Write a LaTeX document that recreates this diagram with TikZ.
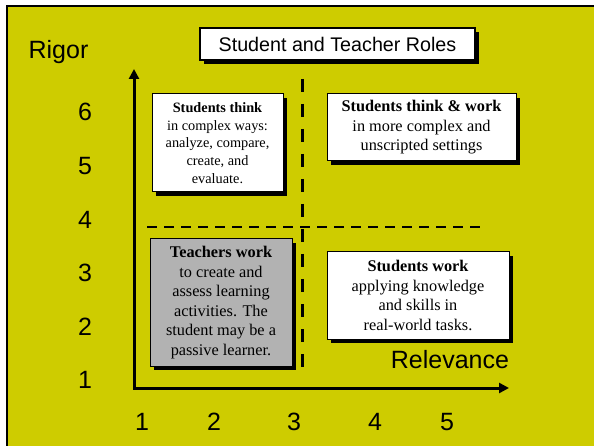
\documentclass[tikz,border=0pt]{standalone}
\usepackage{fontspec}
\setmainfont{Liberation Serif}
\setsansfont{Liberation Sans}
\usetikzlibrary{arrows.meta,shadows}
\definecolor{slidebg}{RGB}{206,204,0}
\definecolor{boxgrey}{RGB}{178,178,178}

\tikzset{
  rolebox/.style={draw, line width=1pt, fill=white, align=center, inner sep=0pt,
    drop shadow={shadow xshift=4pt, shadow yshift=-4pt, fill=black, opacity=1}},
  smalltext/.style={font=\fontsize{14.3}{17.7}\selectfont},
  bigtext/.style={font=\fontsize{16.3}{19.6}\selectfont},
  axislabel/.style={anchor=base, font=\sffamily\fontsize{25}{30}\selectfont},
}

\begin{document}
\begin{tikzpicture}[x=1pt, y=-1pt]
\useasboundingbox (0,0) rectangle (594,446);
\fill[white] (0,0) rectangle (594,446);
\fill[slidebg] (7,6) rectangle (594,446);
\draw[line width=2pt] (7,446) -- (7,6) -- (594,6);

\node (title) at (337.5,44) [rolebox, line width=1.5pt, minimum width=275pt, minimum height=32pt,
  font=\sffamily\fontsize{19.7}{24}\selectfont] {Student and Teacher Roles};

\node (rigor) at (58.5,59) [axislabel] {Rigor};
\node (relevance) at (450,368) [axislabel] {Relevance};

\node (y6) at (85,121) [axislabel] {6};
\node (y5) at (85,175) [axislabel] {5};
\node (y4) at (85,229) [axislabel] {4};
\node (y3) at (85,281) [axislabel] {3};
\node (y2) at (85,335) [axislabel] {2};
\node (y1) at (85,388) [axislabel] {1};

\node (x1) at (142,430) [axislabel] {1};
\node (x2) at (214,430) [axislabel] {2};
\node (x3) at (294,430) [axislabel] {3};
\node (x4) at (375,430) [axislabel] {4};
\node (x5) at (447,430) [axislabel] {5};

\coordinate (origin) at (134,388);
\coordinate (ytop) at (134,69);
\coordinate (xend) at (509,388);
\coordinate (vtop) at (302,79);
\coordinate (vbot) at (302,378);
\coordinate (hleft) at (147,227);
\coordinate (hright) at (485,227);

\draw[{Triangle[length=10pt,width=10pt]}-{Triangle[length=10pt,width=10pt]}, line width=3pt]
  (ytop) -- (origin) -- (xend);
\draw[line width=3pt, dash pattern=on 13pt off 12pt] (vtop) -- (vbot);
\draw[line width=2pt, dash pattern=on 10pt off 7pt] (hleft) -- (hright);

\node (think) at (217.5,143) [rolebox, smalltext, minimum width=131pt, minimum height=98pt]
  {\textbf{Students think}\\in complex ways:\\analyze, compare,\\create, and\\evaluate.};
\node (thinkwork) at (421.5,127.5) [rolebox, bigtext, minimum width=189pt, minimum height=67pt]
  {\textbf{Students think \& work}\\in more complex and\\unscripted settings};
\node (teach) at (221,302.5) [rolebox, bigtext, fill=boxgrey, minimum width=142pt, minimum height=127pt]
  {\textbf{Teachers work}\\to create and\\assess learning\\activities. The\\student may be a\\passive learner.};
\node (work) at (418,295.5) [rolebox, bigtext, minimum width=182pt, minimum height=87pt]
  {\textbf{Students work}\\applying knowledge\\and skills in\\real-world tasks.};

\end{tikzpicture}
\end{document}
